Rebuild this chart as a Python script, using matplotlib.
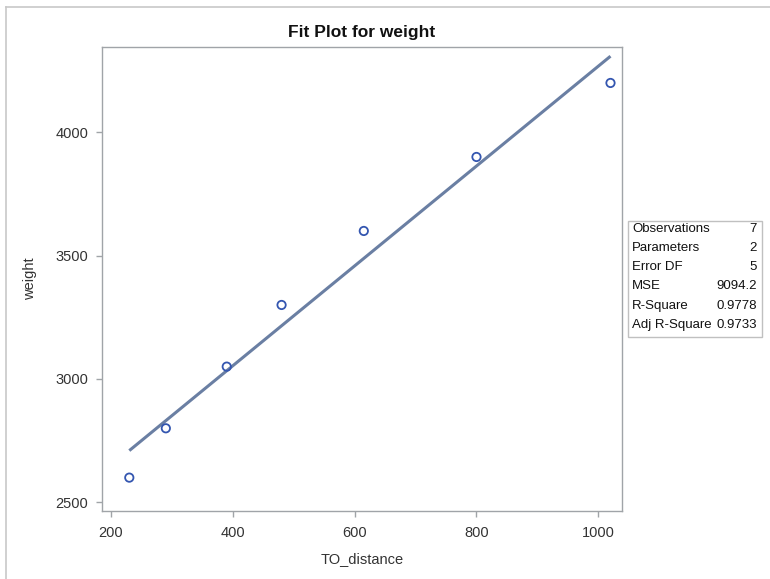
import numpy as np
import matplotlib
matplotlib.use("Agg")
import matplotlib.pyplot as plt
from matplotlib.patches import Rectangle

plt.rcParams['font.family'] = ['Liberation Sans', 'DejaVu Sans']

to_distance = [230, 290, 390, 480, 615, 800, 1020]
weight = [2600, 2800, 3050, 3300, 3600, 3900, 4200]
x_ticks = [200, 400, 600, 800, 1000]
y_ticks = [2500, 3000, 3500, 4000]
stat_labels = ["Observations", "Parameters", "Error DF", "MSE", "R-Square", "Adj R-Square"]
stat_values = ["7", "2", "5", "9094.2", "0.9778", "0.9733"]

W, H = 770, 579
fig = plt.figure(figsize=(W / 100, H / 100), dpi=100)

# outer frame
fig.add_artist(plt.Line2D([6.5 / W, 6.5 / W], [0, 1 - 6.5 / H], transform=fig.transFigure,
                          color='#C8C8C8', lw=1.2))
fig.add_artist(plt.Line2D([6.5 / W, 1], [1 - 6.5 / H, 1 - 6.5 / H], transform=fig.transFigure,
                          color='#C8C8C8', lw=1.2))

left, right, top, bottom = 101.7, 621.7, 46.7, 511.0
ax = fig.add_axes([left / W, 1 - bottom / H, (right - left) / W, (bottom - top) / H])

x = np.array(to_distance, dtype=float)
y = np.array(weight, dtype=float)
slope, intercept = np.polyfit(x, y, 1)
xl = np.array([x.min(), x.max()])
ax.plot(xl, slope * xl + intercept, color='#6A7FA3', lw=2.2, solid_capstyle='butt', zorder=2)
ax.scatter(x, y, s=36, facecolors='none', edgecolors='#3456B0', linewidths=1.3, zorder=3)

ax.set_xlim(184.7, 1038.4)
ax.set_ylim(2464.7, 4347)
ax.set_xticks(x_ticks)
ax.set_yticks(y_ticks)
for s in ax.spines.values():
    s.set_color('#A0A4A8')
    s.set_linewidth(1.0)
ax.tick_params(colors='#A0A4A8', labelcolor='#333333', labelsize=10.5, length=4.3, width=1)
ax.tick_params(axis='x', pad=6.5)
ax.tick_params(axis='y', pad=5.3)

ax.set_xlabel("TO_distance", fontsize=10.5, color='#333333', labelpad=9)
ax.set_ylabel("weight", fontsize=10.5, color='#333333', labelpad=13)
ax.set_title("Fit Plot for weight", fontsize=12.5, fontweight='bold', color='#111111', pad=7)

# statistics box
bx0, by0, bx1, by1 = 628.3, 221.0, 762.3, 336.7
fig.add_artist(Rectangle((bx0 / W, 1 - by1 / H), (bx1 - bx0) / W, (by1 - by0) / H,
                         transform=fig.transFigure, fill=False, edgecolor='#C0C0C0', lw=1.0))
row0, step = 228.5, 19.3
for i, (lab, val) in enumerate(zip(stat_labels, stat_values)):
    yy = 1 - (row0 + i * step) / H
    fig.text(632.3 / W, yy, lab, ha='left', va='center', fontsize=9.5, color='#111111')
    fig.text(757.0 / W, yy, val, ha='right', va='center', fontsize=9.5, color='#111111')

fig.savefig("out.png", dpi=100, facecolor='white')
